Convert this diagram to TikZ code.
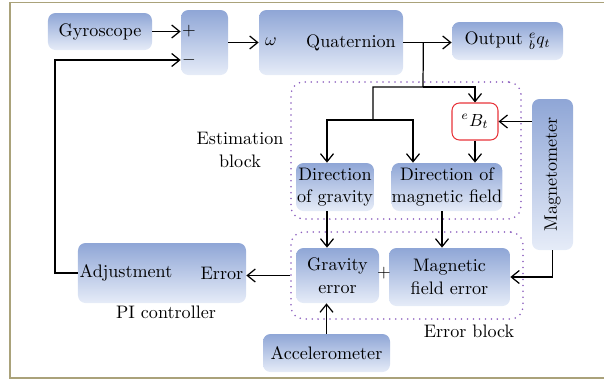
\documentclass[tikz,border=0pt]{standalone}
\usepackage{amsmath,amssymb}
\usepackage{xcolor}
\usepackage{tikz}
\usetikzlibrary{calc}
\usetikzlibrary{arrows.meta}

\definecolor{bluetop}{RGB}{143,166,214}
\definecolor{bluebot}{RGB}{230,236,248}
\definecolor{framebrown}{RGB}{170,162,122}
\definecolor{dotpurple}{RGB}{140,95,190}
\definecolor{boxred}{RGB}{232,52,58}

\begin{document}
\begin{tikzpicture}[x=0.2mm, y=-0.2mm,
        font=\fontsize{10.3}{12.8}\selectfont,
        blok/.style={rounded corners=1.5mm, top color=bluetop, bottom color=bluebot, align=center, inner sep=0pt},
        blokframe/.style={draw=dotpurple, line width=1pt, dash pattern=on 0pt off 3.4pt, line cap=round, rounded corners=2.5mm},
        lin/.style={line width=0.7pt},
        arr/.style={lin, -{Straight Barb[length=1.6mm,width=2.6mm]}}]
       \useasboundingbox (0,0) rectangle (604,381);
        %FRAME
       \draw[framebrown, line width=0.9pt] (604,2.5) -- (10,2.5) -- (10,378) -- (604,378);
        %DOTTED BLOCKS
       \node[blokframe, minimum width=46mm, minimum height=27.4mm] (estblk) at (406,150.5) {};
       \node[blokframe, minimum width=46.4mm, minimum height=17.4mm] (errblk) at (407,275.5) {};
       \node[align=center] (estcap) at (240,150) {Estimation\\block};
       \node (errcap) at (469,331) {Error block};
        %TOP ROW
       \node[blok, minimum width=20.8mm, minimum height=7.4mm] (gyro) at (100,31.5) {Gyroscope};
       \node[blok, minimum width=9.4mm, minimum height=13mm] (sum) at (204.5,42.5) {};
       \node (plus) at (189,31) {$+$};
       \node (minus) at (189,60) {$-$};
       \node[blok, minimum width=28.8mm, minimum height=13mm] (quat) at (331,42.5) {};
       \node (omega) at (271,42) {$\omega$};
       \node (quattxt) at (351,43) {Quaternion};
       \node[blok, minimum width=22.2mm, minimum height=7.6mm] (out) at (507.5,41) {Output ${}^{e}_{b}q_t$};
        %ESTIMATION
       \node[draw=boxred, fill=white, rounded corners=1.5mm, line width=0.6pt, minimum width=9.2mm, minimum height=7.4mm] (eb) at (475,121.5) {${}^{e}B_t$};
       \node[blok, minimum width=8.2mm, minimum height=30.2mm] (mag) at (552.5,174.5) {\rotatebox{90}{Magnetometer}};
       \node[blok, minimum width=15.6mm, minimum height=9.6mm] (dg) at (335,187) {Direction\\of gravity};
       \node[blok, minimum width=22mm, minimum height=9.6mm] (dm) at (447,187) {Direction of\\magnetic field};
        %ERRORS
       \node[blok, minimum width=16.6mm, minimum height=11mm] (ge) at (337.5,275.5) {Gravity\\error};
       \node[blok, minimum width=24.2mm, minimum height=11.6mm] (me) at (449.5,277) {Magnetic\\field error};
       \node (pls) at (384,273) {$+$};
       \node[blok, minimum width=25.4mm, minimum height=7.6mm] (acc) at (326.5,353) {Accelerometer};
        %PI CONTROLLER
       \node[blok, minimum width=33.6mm, minimum height=12mm] (pi) at (162,273) {};
       \node (adj) at (126,273) {Adjustment};
       \node (err) at (222,273) {Error};
       \node (picap) at (166,312) {PI controller};
        %ARROWS
       \draw[arr] (gyro.east) -- (gyro.east -| sum.west);
       \draw[arr] (pi.west) -| (55,60) -- (sum.west |- minus);
       \draw[arr] (sum) -- (quat);
       \draw[arr] (quat.east) -- (quat.east -| out.west);
       \coordinate (split1) at ($(quat.east)+(20,0)$);
       \coordinate (split2) at (423,87);
       \coordinate (split3) at (373,87);
       \coordinate (split4) at (373,120);
       \draw[lin] (split1) -- (split2) -- (split3) -- (split4);
       \draw[arr] (split2) -| (eb.north);
       \draw[arr] (split4) -| ([xshift=-1.6mm]dg.north);
       \draw[arr] (split4) -| ([xshift=-6.8mm]dm.north);
       \draw[arr] (eb.south) -- (eb.south |- dm.north);
       \draw[arr] (eb.east -| mag.west) -- (eb.east);
       \draw[arr] ([xshift=-1.6mm]dg.south) -- ([xshift=-1.6mm]dg.south |- ge.north);
       \draw[arr] ([xshift=-1mm]dm.south) -- ([xshift=-1mm]dm.south |- me.north);
       \draw[arr] (acc.north) -- (acc.north |- ge.south);
       \draw[arr] (mag.south) |- (me.east);
       \draw[arr] (errblk.west) -- (errblk.west -| pi.east);
\end{tikzpicture}
\end{document}
